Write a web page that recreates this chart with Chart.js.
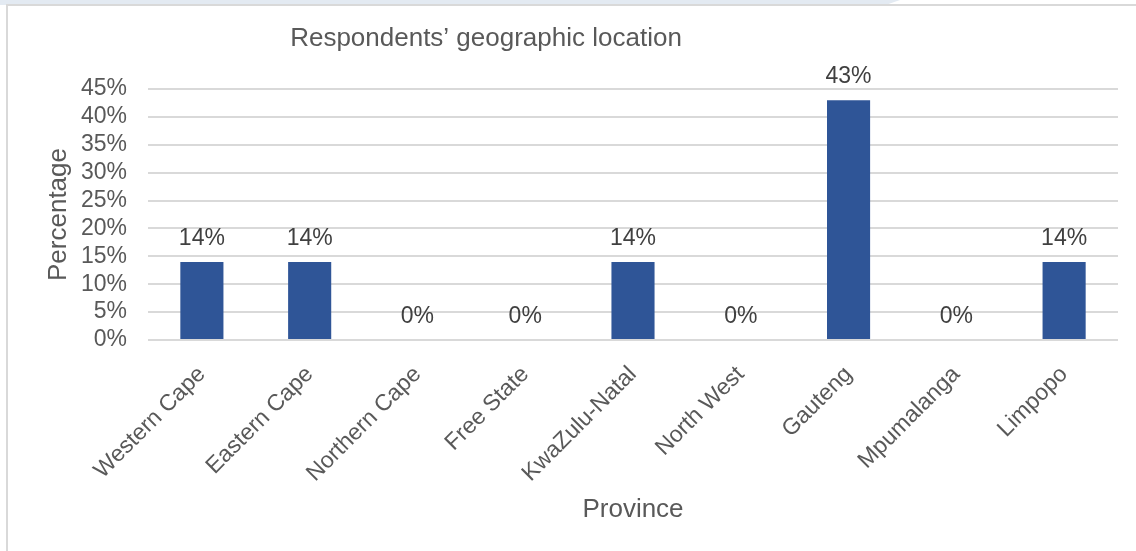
<!DOCTYPE html>
<html>
<head>
<meta charset="utf-8">
<title>Respondents’ geographic location</title>
<script src="https://cdn.jsdelivr.net/npm/chart.js@4.4.1/dist/chart.umd.min.js"></script>
<style>
  html, body { margin: 0; padding: 0; background: #ffffff; }
  #wrap { position: relative; width: 1136px; height: 551px; overflow: hidden; background: #ffffff; }
  #band { position: absolute; left: 0; top: 0; width: 900px; height: 5px; background: #e3eaf2;
          clip-path: polygon(0 0, 100% 0, 98.4% 100%, 0 100%); }
  #frame { position: absolute; left: 6px; top: 4px; right: -4px; bottom: -4px;
           border-top: 2px solid #d9d9d9; border-left: 2px solid #d9d9d9; }
  canvas { position: absolute; left: 0; top: 0; }
</style>
</head>
<body>
<div id="wrap">
  <div id="band"></div>
  <div id="frame"></div>
  <canvas id="chart" width="1136" height="551"></canvas>
</div>
<script>
// Share of respondents per province (percent)
const provinces = ['Western Cape', 'Eastern Cape', 'Northern Cape', 'Free State', 'KwaZulu-Natal',
                   'North West', 'Gauteng', 'Mpumalanga', 'Limpopo'];
const shares = [14, 14, 0, 0, 14, 0, 43, 0, 14];
const yTickValues = [0, 5, 10, 15, 20, 25, 30, 35, 40, 45];

const chartTitle = 'Respondents’ geographic location';
const yAxisTitle = 'Percentage';
const xAxisTitle = 'Province';

const FONT = '"Liberation Sans", Arial, Helvetica, sans-serif';
const GREY_TEXT = '#595959';

// Chart heading, placed left of centre over the plot
const headingPlugin = {
  id: 'heading',
  afterDraw(chart, args, opts) {
    const { ctx } = chart;
    ctx.save();
    ctx.font = `${opts.size}px ${FONT}`;
    ctx.fillStyle = opts.color;
    ctx.textAlign = 'center';
    ctx.textBaseline = 'middle';
    ctx.fillText(opts.text, opts.x, opts.y);
    ctx.restore();
  }
};

// Value labels above each bar
const valueLabelPlugin = {
  id: 'valueLabels',
  afterDatasetsDraw(chart, args, opts) {
    const { ctx } = chart;
    const meta = chart.getDatasetMeta(0);
    const values = chart.data.datasets[0].data;
    ctx.save();
    ctx.font = `${opts.size}px ${FONT}`;
    ctx.fillStyle = opts.color;
    ctx.textAlign = 'center';
    ctx.textBaseline = 'alphabetic';
    meta.data.forEach((bar, i) => {
      ctx.fillText(values[i] + '%', bar.x, bar.y - opts.offset);
    });
    ctx.restore();
  }
};

new Chart(document.getElementById('chart'), {
  type: 'bar',
  data: {
    labels: provinces,
    datasets: [{
      data: shares,
      backgroundColor: '#2f5597',
      borderWidth: 0,
      categoryPercentage: 0.8,
      barPercentage: 0.5
    }]
  },
  options: {
    responsive: false,
    animation: false,
    layout: { padding: { top: 89, right: 18, bottom: 0, left: 0 } },
    plugins: {
      legend: { display: false },
      tooltip: { enabled: false },
      heading: { text: chartTitle, x: 486, y: 39, size: 26, color: GREY_TEXT },
      valueLabels: { size: 23, color: '#404040', offset: 17 }
    },
    scales: {
      x: {
        grid: { display: false },
        border: { display: false },
        ticks: {
          autoSkip: false,
          maxRotation: 45,
          minRotation: 45,
          padding: 13,
          color: GREY_TEXT,
          font: { family: FONT, size: 23 }
        },
        title: {
          display: true,
          text: xAxisTitle,
          color: GREY_TEXT,
          font: { family: FONT, size: 26 },
          padding: { top: 0, bottom: 26 }
        },
        afterFit(scale) { scale.height = 211; }
      },
      y: {
        min: 0,
        max: 45,
        afterBuildTicks(scale) { scale.ticks = yTickValues.map(v => ({ value: v })); },
        grid: { color: '#d9d9d9', lineWidth: 2, drawTicks: false },
        border: { display: false },
        ticks: {
          autoSkip: false,
          padding: 21,
          color: GREY_TEXT,
          font: { family: FONT, size: 23 },
          callback: v => v + '%'
        },
        title: {
          display: true,
          text: yAxisTitle,
          color: GREY_TEXT,
          font: { family: FONT, size: 26 },
          padding: { top: 43, bottom: 0 }
        },
        afterFit(scale) { scale.width = 148; }
      }
    }
  },
  plugins: [headingPlugin, valueLabelPlugin]
});
</script>
</body>
</html>
